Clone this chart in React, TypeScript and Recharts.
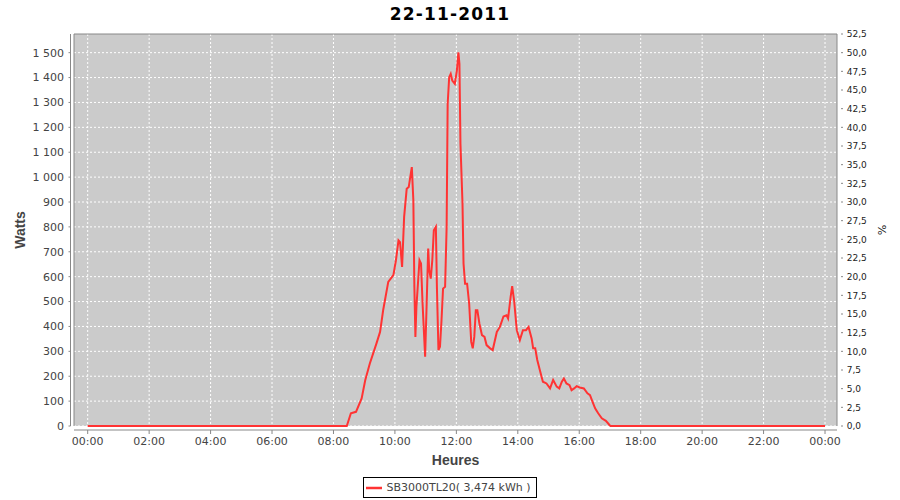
import React from "react";
import {
  LineChart,
  Line,
  XAxis,
  YAxis,
  CartesianGrid,
  ReferenceLine,
  Legend,
} from "recharts";

const TITLE = "22-11-2011";
const SERIES_NAME = "SB3000TL20( 3,474 kWh )";

const TIMES = [
  "00:00", "08:26", "08:34", "08:44", "08:55", "09:02", "09:11", "09:24", "09:31", "09:37",
  "09:47", "09:57", "10:02", "10:07", "10:10", "10:14", "10:18", "10:23", "10:27", "10:31",
  "10:33", "10:36", "10:38", "10:40", "10:42", "10:48", "10:51", "10:54", "10:59", "11:02",
  "11:05", "11:07", "11:10", "11:13", "11:16", "11:20", "11:22", "11:25", "11:28", "11:31",
  "11:34", "11:38", "11:41", "11:43", "11:46", "11:49", "11:52", "11:57", "12:01", "12:04",
  "12:06", "12:08", "12:12", "12:14", "12:17", "12:21", "12:25", "12:29", "12:32", "12:35",
  "12:38", "12:41", "12:45", "12:50", "12:55", "12:59", "13:06", "13:11", "13:19", "13:25",
  "13:32", "13:38", "13:41", "13:46", "13:49", "13:53", "13:58", "14:04", "14:10", "14:16",
  "14:21", "14:27", "14:30", "14:34", "14:38", "14:43", "14:49", "14:56", "15:03", "15:09",
  "15:16", "15:21", "15:26", "15:30", "15:35", "15:41", "15:45", "15:50", "15:55", "16:01",
  "16:09", "16:16", "16:21", "16:26", "16:31", "16:37", "16:44", "16:52", "16:59", "17:01",
  "24:00",
];

const WATTS = [
  0, 0, 51, 57, 111, 184, 251, 332, 378, 465,
  579, 606, 666, 746, 739, 639, 840, 953, 960, 1014,
  1040, 907, 559, 358, 479, 666, 653, 492, 278, 492,
  713, 626, 592, 666, 786, 800, 559, 305, 318, 425,
  552, 559, 800, 1294, 1401, 1415, 1388, 1375, 1428, 1501,
  1455, 1134, 893, 653, 572, 572, 492, 338, 312, 358,
  465, 465, 412, 365, 358, 325, 312, 305, 378, 398,
  440, 445, 432, 519, 562, 500, 385, 345, 385, 385,
  398, 352, 312, 312, 265, 225, 178, 171, 151, 185,
  158, 151, 178, 191, 171, 164, 144, 151, 160, 155,
  151, 131, 124, 97, 71, 51, 31, 21, 4, 0,
  0,
];

const X_TICKS = [0, 2, 4, 6, 8, 10, 12, 14, 16, 18, 20, 22, 24];
const W_TICKS = [0, 100, 200, 300, 400, 500, 600, 700, 800, 900, 1000, 1100, 1200, 1300, 1400, 1500];
const PCT_TICKS = [0, 2.5, 5, 7.5, 10, 12.5, 15, 17.5, 20, 22.5, 25, 27.5, 30, 32.5, 35, 37.5, 40, 42.5, 45, 47.5, 50, 52.5];

const X_MIN = -0.446;
const X_MAX = 24.39;
const W_MAX = 1575;
const PCT_MAX = 52.5;

const toHours = (s: string) => {
  const [h, m] = s.split(":").map(Number);
  return h + m / 60;
};

const data = TIMES.map((t, i) => ({ t: toHours(t), w: WATTS[i] }));

const fmtHour = (h: number) => `${String(h % 24).padStart(2, "0")}:00`;
const fmtW = (v: number) => String(v).replace(/\B(?=(\d{3})+(?!\d))/g, " ");
const fmtPct = (v: number) => v.toFixed(1).replace(".", ",");

const AXIS_GRAY = "#888888";
const TICK_FONT = { fontFamily: "DejaVu Sans", fontSize: 11, fill: "#444444" };
const LABEL_STYLE = {
  fontFamily: "Liberation Sans",
  fontWeight: "bold" as const,
  fontSize: 14,
  fill: "#444444",
  textAnchor: "middle" as const,
};

const LegendBox = (props: any) => {
  const items = props.payload || [];
  return (
    <div style={{ display: "flex", justifyContent: "center" }}>
      {items.map((it: any, i: number) => (
        <div
          key={i}
          style={{
            display: "inline-flex",
            alignItems: "center",
            boxSizing: "border-box",
            height: 21,
            border: "1px solid #000",
            padding: "0 5px 0 2px",
            fontFamily: "DejaVu Sans",
            fontSize: 11,
            color: "#444444",
            background: "#fff",
          }}
        >
          <svg width={16} height={6} style={{ marginRight: 4 }}>
            <line x1={0} y1={3} x2={16} y2={3} stroke={it.color} strokeWidth={2.5} />
          </svg>
          <span>{it.value}</span>
        </div>
      ))}
    </div>
  );
};

export default function App() {
  return (
    <div style={{ position: "absolute", left: 0, top: 0, width: 900, height: 500, background: "#fff" }}>
      <div
        style={{
          position: "absolute",
          left: 0,
          top: 4,
          width: 900,
          textAlign: "center",
          fontFamily: "DejaVu Sans",
          fontWeight: "bold",
          fontSize: 17,
          letterSpacing: 1.2,
          color: "#000",
          lineHeight: "20px",
          zIndex: 2,
        }}
      >
        {TITLE}
      </div>
      <LineChart width={900} height={500} data={data} margin={{ top: 34, right: 0, bottom: 30, left: 0 }}>
        <CartesianGrid
          stroke="#ffffff"
          strokeDasharray="2 2"
          fill="#cbcbcb"
          fillOpacity={1}
          horizontalValues={W_TICKS}
          verticalValues={X_TICKS}
        />
        <XAxis
          dataKey="t"
          type="number"
          domain={[X_MIN, X_MAX]}
          ticks={X_TICKS}
          interval={0}
          tickFormatter={fmtHour}
          height={44}
          tickSize={4}
          tickMargin={7.5}
          tick={TICK_FONT}
          axisLine={{ stroke: AXIS_GRAY, transform: "translate(0,4)" }}
          tickLine={{ stroke: AXIS_GRAY, transform: "translate(0,4)" }}
          label={{ value: "Heures", position: "insideTop", offset: 29, style: LABEL_STYLE }}
        />
        <YAxis
          type="number"
          domain={[0, W_MAX]}
          ticks={W_TICKS}
          interval={0}
          tickFormatter={fmtW}
          width={74}
          tickSize={2}
          tickMargin={8}
          tick={TICK_FONT}
          axisLine={{ stroke: AXIS_GRAY, transform: "translate(-3.5,0)" }}
          tickLine={{ stroke: AXIS_GRAY, transform: "translate(-3.5,0)" }}
          label={{ value: "Watts", angle: -90, position: "insideLeft", offset: 20.5, style: LABEL_STYLE }}
        />
        <YAxis
          yAxisId="pct"
          orientation="right"
          type="number"
          domain={[0, PCT_MAX]}
          allowDataOverflow
          ticks={PCT_TICKS}
          interval={0}
          tickFormatter={fmtPct}
          width={63}
          tickSize={2}
          tickMargin={7.7}
          tick={{ fontFamily: "DejaVu Sans", fontSize: 9, fill: "#222222" }}
          axisLine={{ stroke: AXIS_GRAY }}
          tickLine={{ stroke: AXIS_GRAY, transform: "translate(4,0)" }}
          label={{
            value: "%",
            angle: 90,
            position: "insideRight",
            offset: 18.3,
            style: { ...LABEL_STYLE, fontFamily: "DejaVu Sans", fontWeight: "normal", fontSize: 11, fill: "#222222" },
          }}
        />
        <ReferenceLine x={X_MIN} stroke={AXIS_GRAY} strokeWidth={1} />
        <ReferenceLine y={W_MAX} stroke={AXIS_GRAY} strokeWidth={1} />
        <Line
          type="linear"
          dataKey="w"
          name={SERIES_NAME}
          stroke="#ff3333"
          strokeWidth={2}
          dot={false}
          activeDot={false}
          isAnimationActive={false}
        />
        <Legend
          verticalAlign="middle"
          align="center"
          layout="horizontal"
          content={LegendBox}
          wrapperStyle={{ top: 477, left: 0, width: 900, height: 21 }}
        />
      </LineChart>
    </div>
  );
}
